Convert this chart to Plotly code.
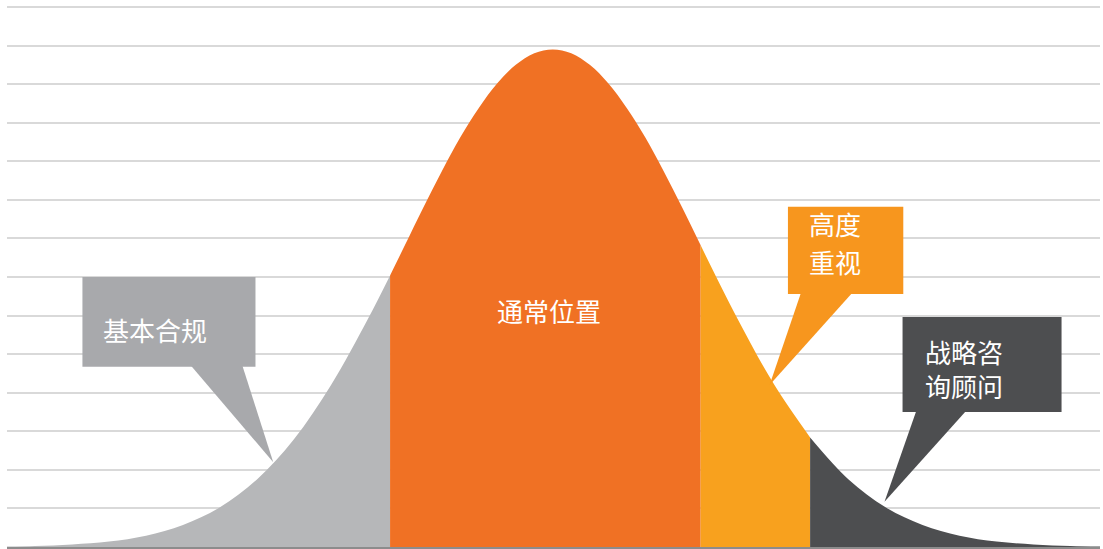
import plotly.graph_objects as go

# Curve heights (in gridline units) at positions in sigma units
curve_x = [-3.7, -3.5, -3.25, -3.0, -2.75, -2.5, -2.25, -2.0, -1.75, -1.5, -1.25, -1.1,
           -1.0, -0.875, -0.75, -0.625, -0.5, -0.375, -0.25, -0.125, 0.0,
           0.125, 0.25, 0.375, 0.5, 0.625, 0.75, 0.875, 1.0,
           1.25, 1.5, 1.74, 2.0, 2.25, 2.5, 2.75, 3.0, 3.25, 3.5, 3.7]
curve_y = [0.014, 0.028, 0.066, 0.14, 0.29, 0.57, 1.03, 1.75, 2.79, 4.19, 5.91, 7.04,
           7.82, 8.80, 9.74, 10.62, 11.38, 12.02, 12.50, 12.80, 12.90,
           12.80, 12.50, 12.02, 11.38, 10.62, 9.74, 8.80, 7.82,
           5.91, 4.19, 2.84, 1.75, 1.03, 0.57, 0.29, 0.14, 0.066, 0.028, 0.014]

segment_names = ["基本合规", "通常位置", "高度重视", "战略咨询顾问"]
segment_bounds = [(-3.7, -1.1), (-1.1, 1.0), (1.0, 1.74), (1.74, 3.7)]
segment_colors = ["#B6B7B9", "#F07124", "#F8A11E", "#4D4E50"]

# Callouts: label lines, box colour
callout_texts = [["基本合规"], ["高度", "重视"], ["战略咨<br>询顾问"]]
callout_colors = ["#A8A9AC", "#F7961E", "#4D4E50"]
callout_boxes = [(-3.18, -2.01, 4.67, 7.0), (1.59, 2.37, 6.56, 8.82), (2.365, 3.44, 3.5, 5.96)]
callout_bases = [(-2.45, -2.10), (1.68, 2.03), (2.46, 2.80)]
callout_tips = [(-1.89, 2.2), (1.466, 4.2), (2.243, 1.17)]
callout_text_pos = [[(-2.69, 5.65, "center")], [(1.72, 8.38, "left"), (1.72, 7.39, "left")],
                    [(2.50, 4.63, "left")]]

FONT = "Noto Sans CJK SC"
FS = 26

fig = go.Figure()
for name, (a, b), col in zip(segment_names, segment_bounds, segment_colors):
    xs = [x for x in curve_x if a - 1e-9 <= x <= b + 1e-9]
    ys = [y for x, y in zip(curve_x, curve_y) if a - 1e-9 <= x <= b + 1e-9]
    fig.add_trace(go.Scatter(x=xs, y=ys, mode="lines", line=dict(width=0, color=col, shape="spline"),
                             fill="tozeroy", fillcolor=col, name=name, showlegend=False,
                             hoverinfo="skip"))

shapes = []
annotations = []
for lines, col, (x0, x1, y0, y1), (bx0, bx1), (tx, ty), poss in zip(
        callout_texts, callout_colors, callout_boxes, callout_bases, callout_tips, callout_text_pos):
    shapes.append(dict(type="rect", xref="x", yref="y", x0=x0, x1=x1, y0=y0, y1=y1,
                       fillcolor=col, line=dict(width=0), layer="above"))
    shapes.append(dict(type="path", xref="x", yref="y",
                       path=f"M {bx0} {y0 + 0.05} L {bx1} {y0 + 0.05} L {tx} {ty} Z",
                       fillcolor=col, line=dict(width=0), layer="above"))
    for text, (ax, ay, anc) in zip(lines, poss):
        annotations.append(dict(x=ax, y=ay, xref="x", yref="y", text=text, showarrow=False,
                                xanchor=anc, yanchor="middle", align="left",
                                font=dict(family=FONT, size=FS, color="white")))

annotations.append(dict(x=-0.027, y=6.14, xref="x", yref="y", text="通常位置", showarrow=False,
                        xanchor="center", yanchor="middle",
                        font=dict(family=FONT, size=FS, color="white")))

fig.update_layout(
    width=1103, height=549,
    margin=dict(l=7, r=3, t=0, b=2),
    paper_bgcolor="white", plot_bgcolor="white",
    shapes=shapes, annotations=annotations,
    xaxis=dict(range=[-3.69, 3.70], showgrid=False, zeroline=False, showticklabels=False,
               ticks="", showline=True, linecolor="#8C8C8C", linewidth=2, fixedrange=True),
    yaxis=dict(range=[0, 14.18], dtick=1, tick0=0, showgrid=True, gridcolor="#D9D9D9",
               gridwidth=1.5, zeroline=False, showticklabels=False, ticks="", showline=False,
               fixedrange=True),
    showlegend=False,
)

fig.write_html("out.html", config={"displayModeBar": False},
               post_script="document.body.style.margin='0';document.body.style.overflow='hidden';")
